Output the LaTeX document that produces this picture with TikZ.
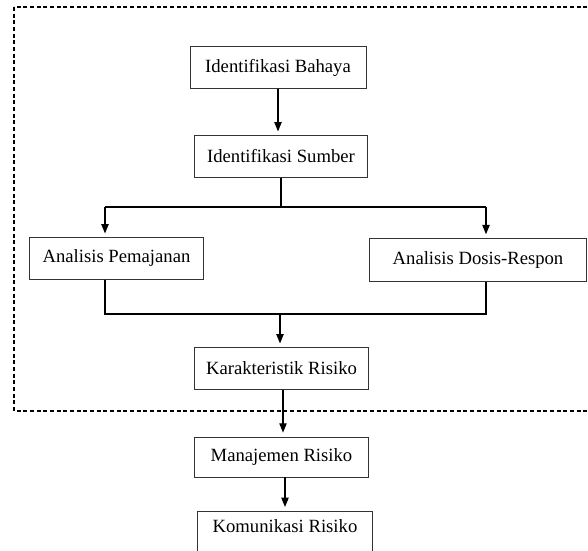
\documentclass[tikz,border=0pt]{standalone}
\usepackage{fontspec}
\setmainfont{Liberation Serif}
\usetikzlibrary{arrows.meta}

\begin{document}
\begin{tikzpicture}[x=0.75pt,y=0.75pt,
  box/.style={draw=black!80,line width=0.6pt,fill=white,minimum height=31pt,font=\fontsize{14}{16}\selectfont},
  conn/.style={line width=0.9pt},
  arr/.style={conn,-{Triangle[length=7pt,width=5.5pt]},shorten >=3pt}]
\clip (0,0) rectangle (588,550);
\draw[dash pattern=on 3pt off 2pt,line width=0.8pt] (14,543) rectangle (610,139);
\node[box,minimum width=132pt] (bahaya) at (278,482.5) {Identifikasi Bahaya};
\node[box,minimum width=130pt] (sumber) at (281,393.5) {Identifikasi Sumber};
\node[box,minimum width=131pt] (pemajanan) at (116.5,291.5) {Analisis Pemajanan};
\node[box,minimum width=163pt,minimum height=32pt] (dosis) at (478,290) {Analisis Dosis-Respon};
\node[box,minimum width=131pt] (karakteristik) at (281.5,181.5) {Karakteristik Risiko};
\node[box,minimum width=131pt,minimum height=30pt] (manajemen) at (281.5,93) {Manajemen Risiko};
\node[box,minimum width=131pt,minimum height=40pt,anchor=north,text depth=18pt] (komunikasi) at (285,39) {Komunikasi Risiko};
\coordinate (splitL) at (105,343);
\coordinate (splitR) at (486,343);
\coordinate (joinL) at (105,236);
\coordinate (joinR) at (486,236);
\coordinate (joinM) at (280,236);
\draw[arr] (bahaya.south) -- (bahaya.south |- sumber.north);
\draw[conn] (sumber.south) -- (sumber.south |- splitL);
\draw[conn] (splitL) -- (splitR);
\draw[arr] (splitL) -- (splitL |- pemajanan.north);
\draw[arr] (splitR) -- (splitR |- dosis.north);
\draw[conn] (joinL |- pemajanan.south) -- (joinL) -- (joinR) -- (joinR |- dosis.south);
\draw[arr] (joinM) -- (joinM |- karakteristik.north);
\draw[arr] (283,0 |- karakteristik.south) -- (283,0 |- manajemen.north);
\draw[arr] (285,0 |- manajemen.south) -- (285,0 |- komunikasi.north);
\end{tikzpicture}
\end{document}
